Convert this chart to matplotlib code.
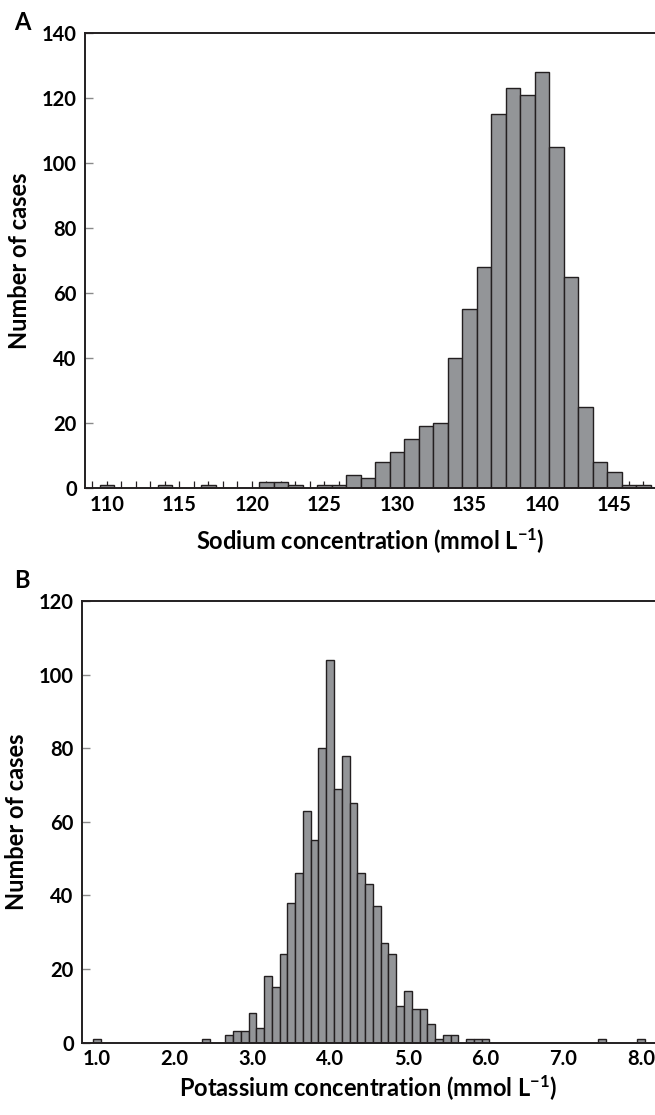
import matplotlib
matplotlib.use('Agg')
import matplotlib.pyplot as plt
from matplotlib.ticker import FixedLocator, NullFormatter

# panel A: sodium, 1 mmol/L bins (bin centres)
sodium_bins = [110, 114, 117, 121, 122, 123, 125, 126, 127, 128, 129, 130,
               131, 132, 133, 134, 135, 136, 137, 138, 139, 140, 141, 142,
               143, 144, 145, 146, 147]
sodium_counts = [1, 1, 1, 2, 2, 1, 1, 1, 4, 3, 8, 11,
                 15, 19, 20, 40, 55, 68, 115, 123, 121, 128, 105, 65,
                 25, 8, 5, 1, 1]
sodium_ticks = [110, 115, 120, 125, 130, 135, 140, 145]

# panel B: potassium, 0.1 mmol/L bins (bin centres)
potassium_bins = [1.0, 2.4, 2.7, 2.8, 2.9, 3.0, 3.1, 3.2, 3.3, 3.4, 3.5, 3.6,
                  3.7, 3.8, 3.9, 4.0, 4.1, 4.2, 4.3, 4.4, 4.5, 4.6, 4.7, 4.8,
                  4.9, 5.0, 5.1, 5.2, 5.3, 5.4, 5.5, 5.6, 5.8, 5.9, 6.0, 7.5, 8.0]
potassium_counts = [1, 1, 2, 3, 3, 8, 4, 18, 15, 24, 38, 46,
                    63, 55, 80, 104, 69, 78, 65, 46, 43, 37, 27, 24,
                    10, 14, 9, 9, 5, 1, 2, 2, 1, 1, 1, 1, 1]
potassium_ticks = [1.0, 2.0, 3.0, 4.0, 5.0, 6.0, 7.0, 8.0]

W = 'bold'
plt.rcParams.update({
    'font.family': ['Lato', 'DejaVu Sans'],
    'font.weight': W,
    'axes.labelweight': W,
    'mathtext.fontset': 'custom',
    'mathtext.rm': 'Lato:bold',
    'mathtext.it': 'Lato:bold',
    'mathtext.default': 'rm',
})

BAR = '#939598'
EDGE = '#231f20'
TICK_FS = 14.5
LABEL_FS = 17

fig = plt.figure(figsize=(6.55, 11.15), dpi=100)
ax1 = fig.add_axes([0.1298, 0.5623, 0.8702, 0.4081])
ax2 = fig.add_axes([0.1252, 0.0650, 0.8748, 0.3960])


def style(ax):
    ax.spines['right'].set_visible(False)
    for s in ('left', 'bottom', 'top'):
        ax.spines[s].set_color(EDGE)
        ax.spines[s].set_linewidth(1.4)
    ax.tick_params(axis='y', direction='in', length=6, width=1.0,
                   color='#8a8a8a', labelsize=TICK_FS, pad=6)
    for lab in ax.get_yticklabels():
        lab.set_fontweight(W)
    ax.set_ylabel('Number of cases', fontsize=LABEL_FS, fontweight=W, labelpad=8)


# panel A
ax1.bar(sodium_bins, sodium_counts, width=1.0, color=BAR, edgecolor=EDGE,
        linewidth=1.0, zorder=2)
ax1.set_xlim(108.5, 147.8)
ax1.set_ylim(0, 140)
ax1.set_yticks(range(0, 141, 20))
ax1.xaxis.set_major_locator(FixedLocator(sodium_ticks))
ax1.xaxis.set_minor_locator(FixedLocator(range(109, 148)))
ax1.xaxis.set_minor_formatter(NullFormatter())
ax1.tick_params(axis='x', which='both', direction='in', length=5, width=0.9,
                color=EDGE, labelsize=TICK_FS, pad=5)
ax1.set_xticklabels([str(t) for t in sodium_ticks], fontweight=W)
for t in ax1.xaxis.get_major_ticks() + ax1.xaxis.get_minor_ticks():
    t.tick1line.set_zorder(5)
style(ax1)
ax1.set_xlabel('Sodium concentration (mmol L$^{-1}$)', fontsize=LABEL_FS,
               fontweight=W, labelpad=8)
fig.text(0.021, 0.980, 'A', fontsize=17, fontweight=W, va='center')

# panel B
ax2.bar(potassium_bins, potassium_counts, width=0.1, color=BAR, edgecolor=EDGE,
        linewidth=1.0, zorder=2)
ax2.set_xlim(0.807, 8.18)
ax2.set_ylim(0, 120)
ax2.set_yticks(range(0, 121, 20))
ax2.set_xticks(potassium_ticks)
ax2.set_xticklabels(['%.1f' % t for t in potassium_ticks], fontweight=W)
ax2.tick_params(axis='x', length=0, labelsize=TICK_FS, pad=5)
style(ax2)
ax2.set_xlabel('Potassium concentration (mmol L$^{-1}$)', fontsize=LABEL_FS,
               fontweight=W, labelpad=3)
fig.text(0.021, 0.479, 'B', fontsize=17, fontweight=W, va='center')

fig.savefig('out.png', dpi=100)
